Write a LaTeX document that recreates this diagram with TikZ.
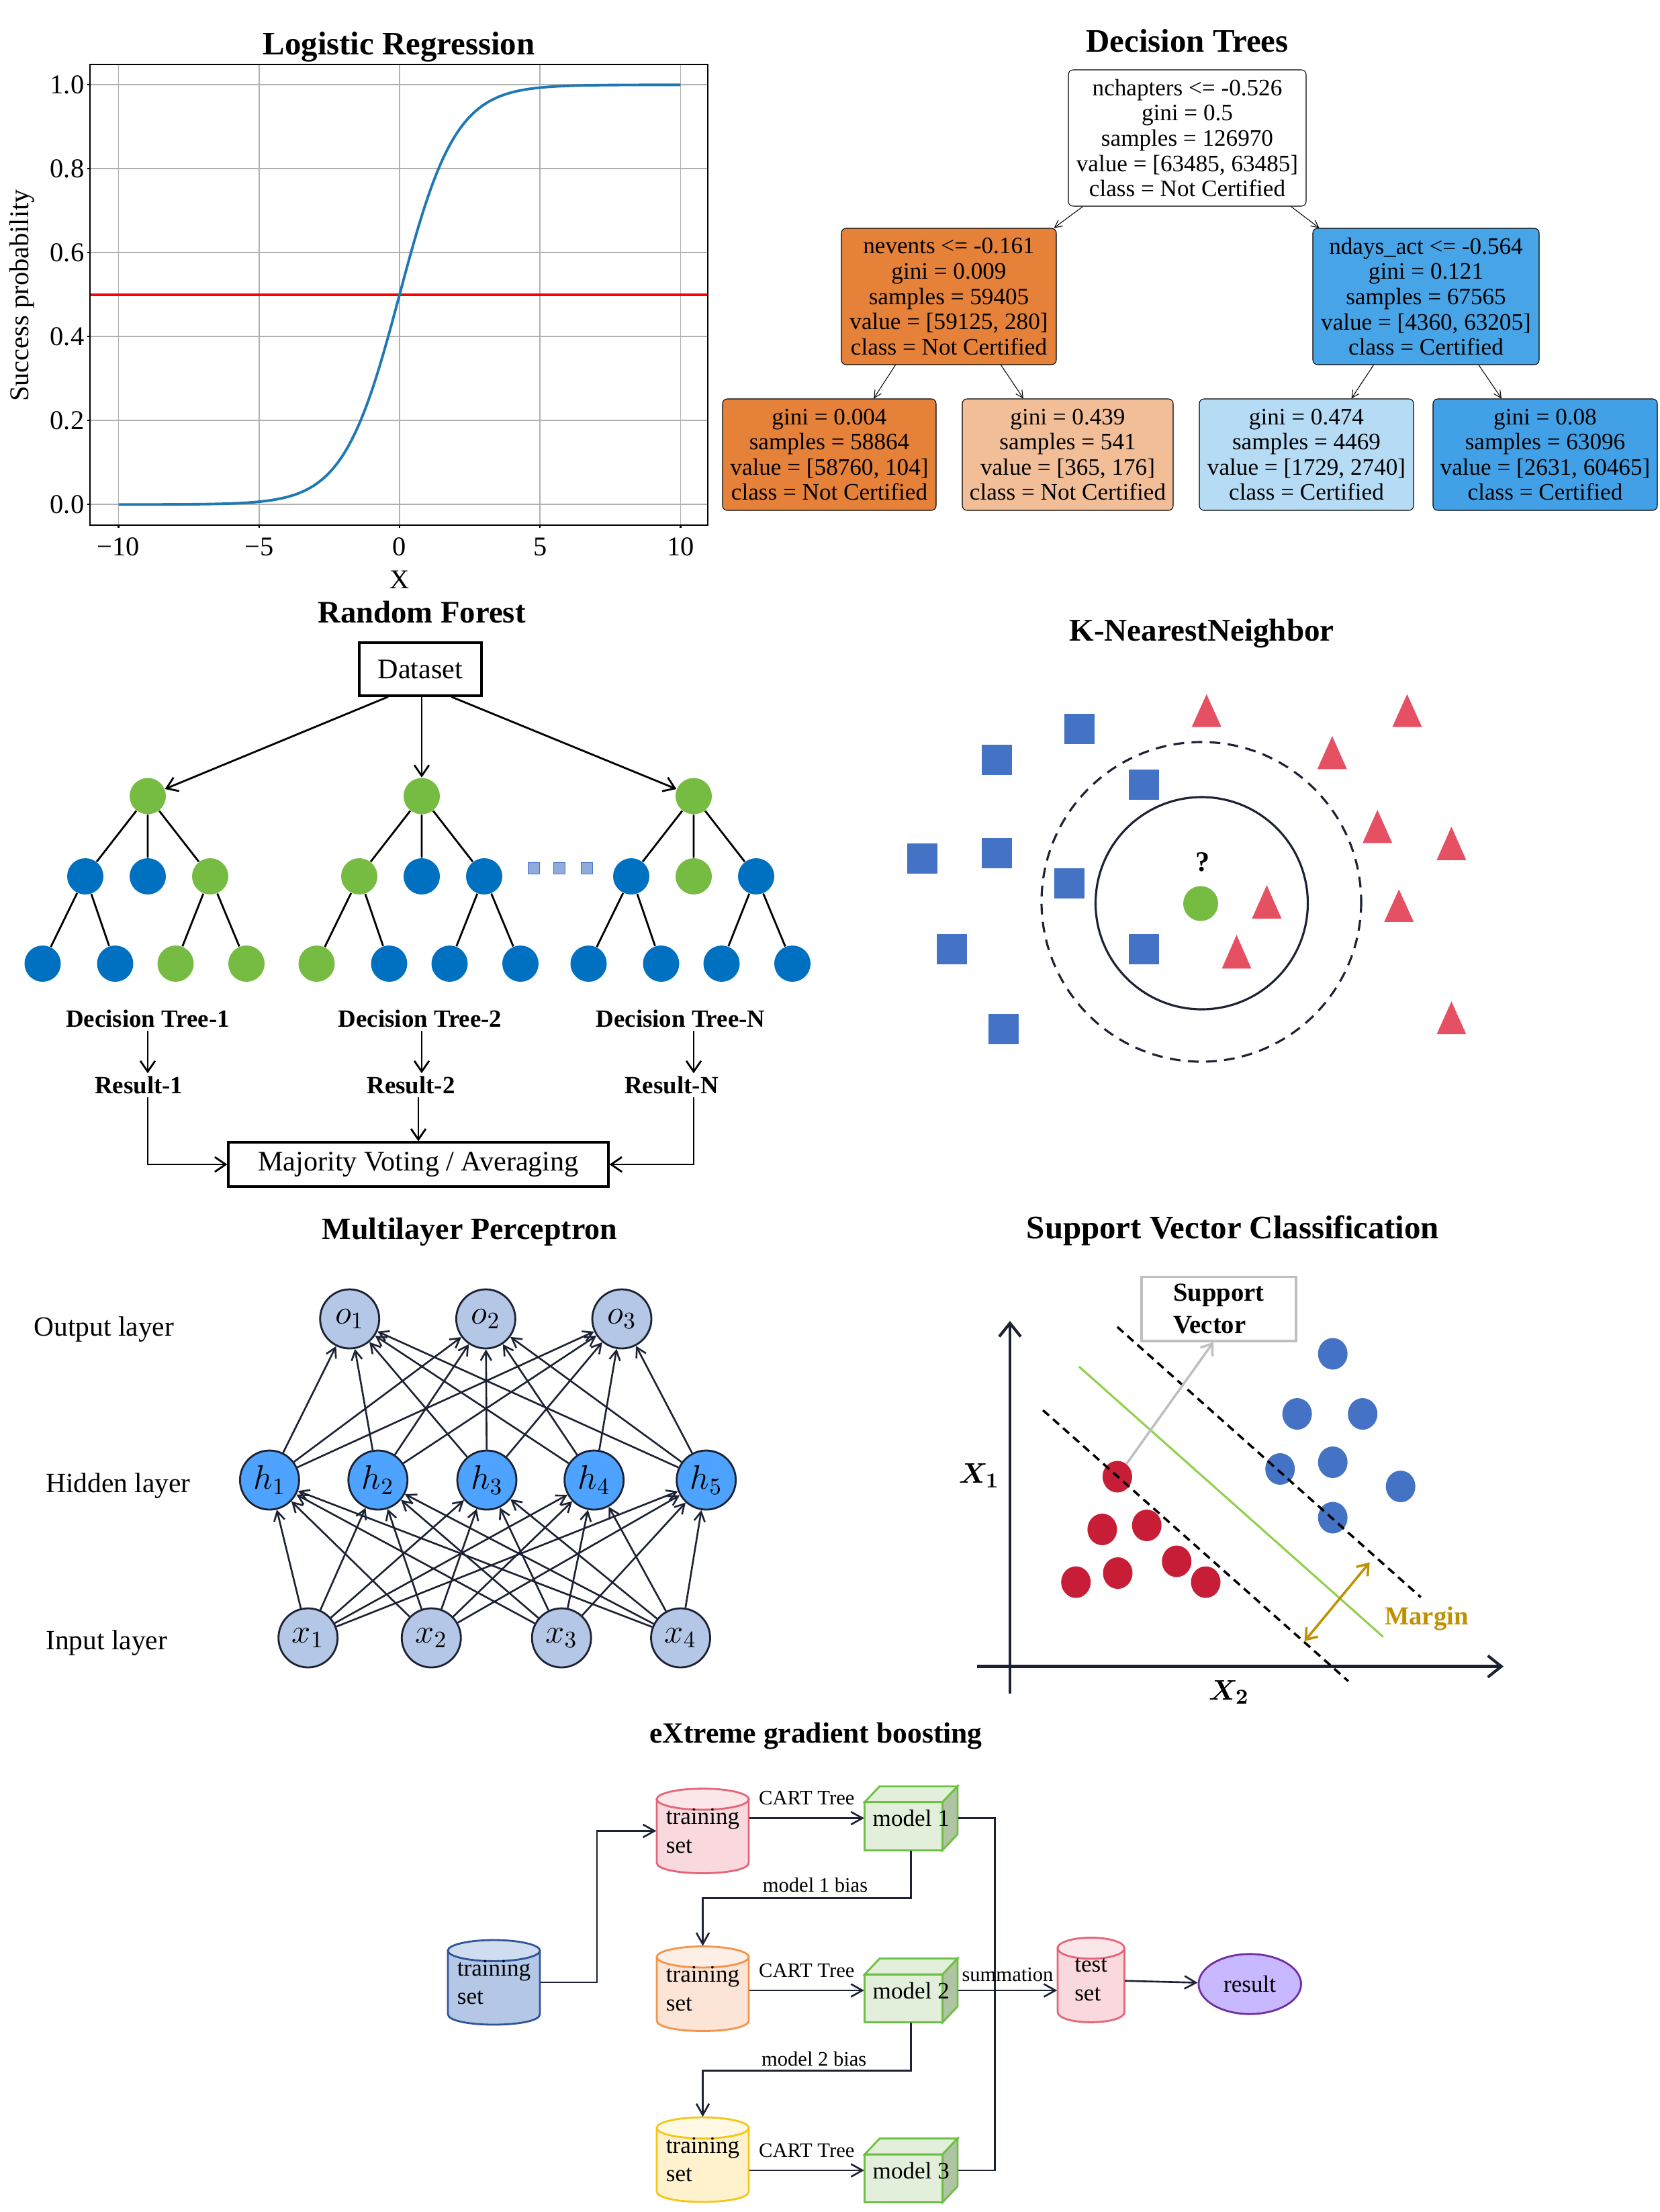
\documentclass[tikz,border=0pt]{standalone}
\usepackage{fontspec}
\setmainfont{Liberation Serif}
\usepackage{bm}
\usetikzlibrary{arrows.meta,calc,positioning,shapes.geometric}

\definecolor{lrblue}{HTML}{1F77B4}
\definecolor{lrgrid}{HTML}{B0B0B0}
\definecolor{dtorange}{HTML}{E58139}
\definecolor{dtpeach}{HTML}{F2BE98}
\definecolor{dtblue}{HTML}{47A4E7}
\definecolor{dtpale}{HTML}{B6DBF5}
\definecolor{dtdeep}{HTML}{42A1E6}
\definecolor{rfgreen}{HTML}{76BC43}
\definecolor{rfblue}{HTML}{0070C0}
\definecolor{rfdot}{HTML}{8FAADC}
\definecolor{knnblue}{HTML}{4472C4}
\definecolor{knnred}{HTML}{E65063}
\definecolor{knngreen}{HTML}{76BC43}
\definecolor{navy}{HTML}{1C2233}
\definecolor{mlplight}{HTML}{B4C7E7}
\definecolor{mlphid}{HTML}{4DA3FF}
\definecolor{svred}{HTML}{C81D36}
\definecolor{svblue}{HTML}{4472C4}
\definecolor{svgreen}{HTML}{92D050}
\definecolor{svgold}{HTML}{BF9000}
\definecolor{svgray}{HTML}{BFBFBF}
\definecolor{xgpinkfill}{HTML}{F9D9DD}
\definecolor{xgpinktop}{HTML}{FBE7EA}
\definecolor{xgpinkline}{HTML}{E66478}
\definecolor{xgorangefill}{HTML}{FCE4D6}
\definecolor{xgorangetop}{HTML}{FDEFE6}
\definecolor{xgorangeline}{HTML}{F4934A}
\definecolor{xgyellowfill}{HTML}{FFF2CC}
\definecolor{xgyellowtop}{HTML}{FFF8E3}
\definecolor{xgyellowline}{HTML}{F5C518}
\definecolor{xgbluefill}{HTML}{B4C7E7}
\definecolor{xgbluetop}{HTML}{D0DCF0}
\definecolor{xgblueline}{HTML}{2F5597}
\definecolor{xggreenfill}{HTML}{E2EFDA}
\definecolor{xggreenside}{HTML}{AFC4A2}
\definecolor{xggreenline}{HTML}{70BF45}
\definecolor{xgresfill}{HTML}{C7B8FF}
\definecolor{xgresline}{HTML}{7030A0}

\begin{document}
\begin{tikzpicture}[x=1mm, y=-1mm, >={Straight Barb[length=1.6mm,width=2.2mm]},
    title/.style={font=\fontsize{#1}{#1}\selectfont\bfseries},
    title/.default=13.9,
    axislabel/.style={font=\fontsize{11.5}{13}\selectfont, inner sep=0pt},
    dtbox/.style={draw, rounded corners=0.7mm, line width=0.3pt, align=center, inner sep=0pt,
        font=\fontsize{10}{10.7}\selectfont},
    dtarrow/.style={-{Straight Barb[length=1.1mm,width=1.1mm]}, line width=0.3pt},
    rfnode/.style={circle, fill=#1, minimum size=5.4mm, inner sep=0pt},
    rfline/.style={line width=0.8pt},
    rfarrow/.style={->, line width=0.8pt},
    rflabel/.style={font=\fontsize{10.5}{12}\selectfont\bfseries, inner sep=0.4mm},
    mlpnode/.style={circle, draw=navy, line width=0.8pt, fill=#1, minimum size=8.8mm, inner sep=0pt,
        font=\fontsize{14.5}{16}\selectfont},
    mlparrow/.style={-{Straight Barb[length=1.4mm,width=1.6mm]}, draw=navy, line width=0.75pt},
    layerlabel/.style={anchor=west, inner sep=0pt, font=\fontsize{11.8}{14}\selectfont},
    xgtext/.style={font=\fontsize{10}{12.1}\selectfont},
    xgsmall/.style={font=\fontsize{8.7}{10}\selectfont, inner sep=0.6mm},
    xgline/.style={draw=navy, line width=0.75pt},
    xgarrow/.style={xgline, -{Straight Barb[length=1.7mm,width=1.9mm]}}
]
    \useasboundingbox (0,0) rectangle (247.1,329.4);

    \node[title] (lrtitle) at (59.4,7.0) {Logistic Regression};
    \foreach \t in {-10,-5,0,5,10}
        \draw[lrgrid, line width=0.55pt] ({59.5+4.185*\t},9.59) -- ({59.5+4.185*\t},78.17);
    \foreach \p in {0,0.2,0.4,0.6,0.8,1}
        \draw[lrgrid, line width=0.55pt] (13.38,{75.13-62.5*\p}) -- (105.4,{75.13-62.5*\p});
    \draw[red, line width=1pt] (13.38,43.88) -- (105.4,43.88);
    \draw[lrblue, line width=1.1pt] plot[domain=-10:10, samples=121, smooth]
        ({59.5+4.185*\x},{75.13-62.5/(1+exp(-max(\x,-9)))});
    \draw[line width=0.6pt] (13.38,9.59) rectangle (105.4,78.17);
    \foreach \t/\l [count=\i] in {-10/−10,-5/−5,0/0,5/5,10/10} {
        \draw[line width=0.6pt] ({59.5+4.185*\t},78.17) -- ({59.5+4.185*\t},78.6);
        \node[axislabel, anchor=north] (xt\i) at ({59.5+4.185*\t},80.0) {\l};
    }
    \foreach \p/\l [count=\i] in {0/0.0,0.2/0.2,0.4/0.4,0.6/0.6,0.8/0.8,1/1.0} {
        \draw[line width=0.6pt] (13.38,{75.13-62.5*\p}) -- (12.95,{75.13-62.5*\p});
        \node[axislabel, anchor=east] (yt\i) at (12.6,{75.13-62.5*\p}) {\l};
    }
    \node[axislabel] (xlab) at (59.5,86.3) {X};
    \node[axislabel, rotate=90] (ylab) at (3.3,44.0) {Success probability};

    \node[title] (dttitle) at (176.8,6.1) {Decision Trees};
    \node[dtbox, fill=white, minimum width=35.4mm, minimum height=20.3mm] (root) at (176.8,20.55)
        {nchapters <= -0.526\\gini = 0.5\\samples = 126970\\value = [63485, 63485]\\class = Not Certified};
    \node[dtbox, fill=dtorange, minimum width=32mm, minimum height=20.3mm] (lmid) at (141.3,44.15)
        {nevents <= -0.161\\gini = 0.009\\samples = 59405\\value = [59125, 280]\\class = Not Certified};
    \node[dtbox, fill=dtblue, minimum width=33.7mm, minimum height=20.3mm] (rmid) at (212.35,44.15)
        {ndays\_act <= -0.564\\gini = 0.121\\samples = 67565\\value = [4360, 63205]\\class = Certified};
    \node[dtbox, fill=dtorange, minimum width=31.8mm, minimum height=16.6mm] (leafa) at (123.5,67.7)
        {gini = 0.004\\samples = 58864\\value = [58760, 104]\\class = Not Certified};
    \node[dtbox, fill=dtpeach, minimum width=31.4mm, minimum height=16.6mm] (leafb) at (159.0,67.7)
        {gini = 0.439\\samples = 541\\value = [365, 176]\\class = Not Certified};
    \node[dtbox, fill=dtpale, minimum width=31.9mm, minimum height=16.6mm] (leafc) at (194.55,67.7)
        {gini = 0.474\\samples = 4469\\value = [1729, 2740]\\class = Certified};
    \node[dtbox, fill=dtdeep, minimum width=33.4mm, minimum height=16.6mm] (leafd) at (230.1,67.7)
        {gini = 0.08\\samples = 63096\\value = [2631, 60465]\\class = Certified};
    \draw[dtarrow] ([xshift=2.2mm]root.south west) -- ([xshift=-0.4mm]lmid.north east);
    \draw[dtarrow] ([xshift=-2.3mm]root.south east) -- ([xshift=1mm]rmid.north west);
    \draw[dtarrow] ([xshift=8.1mm]lmid.south west) -- ([xshift=6.6mm]leafa.north);
    \draw[dtarrow] ([xshift=-8.3mm]lmid.south east) -- ([xshift=-6.6mm]leafb.north);
    \draw[dtarrow] ([xshift=9.1mm]rmid.south west) -- ([xshift=6.7mm]leafc.north);
    \draw[dtarrow] ([xshift=-9.05mm]rmid.south east) -- ([xshift=-6.5mm]leafd.north);

    \node[title=13.3] (rftitle) at (62.8,91.1) {Random Forest};
    \node[draw, line width=0.9pt, minimum width=18.2mm, minimum height=7.9mm, inner sep=0pt,
        font=\fontsize{12}{14}\selectfont] (data) at (62.6,99.65) {Dataset};
    \foreach \k/\cx/\ca/\cb/\cc/\caa/\cab/\cca/\ccb in {
            1/22.0/rfblue/rfblue/rfgreen/rfblue/rfblue/rfgreen/rfgreen,
            2/62.8/rfgreen/rfblue/rfblue/rfgreen/rfblue/rfblue/rfblue,
            3/103.3/rfblue/rfgreen/rfblue/rfblue/rfblue/rfblue/rfblue} {
        \node[rfnode=rfgreen] (tr\k) at (\cx,118.55) {};
        \node[rfnode=\ca] (ta\k) at ({\cx-9.3},130.5) {};
        \node[rfnode=\cb] (tb\k) at (\cx,130.5) {};
        \node[rfnode=\cc] (tc\k) at ({\cx+9.3},130.5) {};
        \node[rfnode=\caa] (taa\k) at ({\cx-15.65},143.5) {};
        \node[rfnode=\cab] (tab\k) at ({\cx-4.85},143.5) {};
        \node[rfnode=\cca] (tca\k) at ({\cx+4.15},143.5) {};
        \node[rfnode=\ccb] (tcb\k) at ({\cx+14.7},143.5) {};
        \draw[rfline] (tr\k) -- (ta\k) (tr\k) -- (tb\k) (tr\k) -- (tc\k)
            (ta\k) -- (taa\k) (ta\k) -- (tab\k) (tc\k) -- (tca\k) (tc\k) -- (tcb\k);
    }
    \foreach \x [count=\i] in {79.5,83.3,87.4}
        \node[draw=knnblue, fill=rfdot, line width=0.5pt, minimum size=1.7mm, inner sep=0pt] (dot\i) at (\x,129.3) {};
    \draw[rfarrow] ([xshift=-4.8mm]data.south) -- (tr1);
    \draw[rfarrow] (data.south -| tr2) -- (tr2);
    \draw[rfarrow] ([xshift=4.6mm]data.south) -- (tr3);
    \node[rflabel] (dt1) at (22.0,151.7) {Decision Tree-1};
    \node[rflabel] (dt2) at (62.56,151.7) {Decision Tree-2};
    \node[rflabel] (dt3) at (101.35,151.7) {Decision Tree-N};
    \node[rflabel] (res1) at (20.67,161.6) {Result-1};
    \node[rflabel] (res2) at (61.2,161.6) {Result-2};
    \node[rflabel] (res3) at (100.0,161.6) {Result-N};
    \node[draw, line width=0.9pt, minimum width=56.6mm, minimum height=6.6mm, inner sep=0pt,
        font=\fontsize{12}{14}\selectfont] (vote) at (62.3,173.4) {Majority Voting / Averaging};
    \draw[rfarrow] (dt1.south -| tr1) -- (res1.north -| tr1);
    \draw[rfarrow] (dt2.south -| tr2) -- (res2.north -| tr2);
    \draw[rfarrow] (dt3.south -| tr3) -- (res3.north -| tr3);
    \draw[rfarrow] (res1.south -| tr1) |- (vote.west);
    \draw[rfarrow] (res2.south -| vote.north) -- (vote.north);
    \draw[rfarrow] (res3.south -| tr3) |- (vote.east);

    \node[title=13.4] (knntitle) at (178.96,94.3) {K-NearestNeighbor};
    \foreach \x/\y in {160.7/108.55,148.4/113.1,170.3/116.8,137.3/127.8,148.4/127.0,
            159.2/131.5,141.7/141.3,170.3/141.3,149.4/153.2}
        \fill[knnblue] ({\x-2.25},{\y-2.25}) rectangle ({\x+2.25},{\y+2.25});
    \foreach \x/\a/\b in {179.67/103.37/108.26,209.54/103.37/108.26,198.38/109.6/114.54,
            205.12/120.6/125.53,216.14/123.1/128.09,188.64/131.81/136.79,208.32/132.44/137.29,
            184.15/139.21/144.24,216.14/149.13/154.02}
        \fill[knnred] ({\x-2.2},\b) -- (\x,\a) -- ({\x+2.2},\b) -- cycle;
    \draw[navy, line width=0.9pt, dash pattern=on 1.6mm off 1.1mm] (178.9,134.3) circle[radius=23.8];
    \draw[navy, line width=0.9pt] (178.95,134.5) circle[radius=15.8];
    \node[circle, fill=knngreen, minimum size=5.2mm, inner sep=0pt] (query) at (178.8,134.55) {};
    \node[font=\fontsize{12}{14}\selectfont\bfseries] (qmark) at (179.1,128.4) {?};

    \node[title=13.1] (mlptitle) at (69.95,183.4) {Multilayer Perceptron};
    \foreach \x [count=\i] in {52.07,72.34,92.6}
        \node[mlpnode=mlplight] (o\i) at (\x,196.4) {$o_{\i}$};
    \foreach \x [count=\i] in {40.14,56.28,72.5,88.47,105.17}
        \node[mlpnode=mlphid] (h\i) at (\x,220.4) {$h_{\i}$};
    \foreach \x [count=\i] in {45.87,64.23,83.62,101.35}
        \node[mlpnode=mlplight] (x\i) at (\x,243.9) {$x_{\i}$};
    \foreach \i in {1,...,4}
        \foreach \j in {1,...,5}
            \draw[mlparrow] (x\i) -- (h\j);
    \foreach \j in {1,...,5}
        \foreach \k in {1,2,3}
            \draw[mlparrow] (h\j) -- (o\k);
    \node[layerlabel] (outlab) at (5.0,198.0) {Output layer};
    \node[layerlabel] (hidlab) at (6.76,221.25) {Hidden layer};
    \node[layerlabel] (inlab) at (6.76,244.65) {Input layer};

    \node[title] (svctitle) at (183.6,183.2) {Support Vector Classification};
    \draw[navy, line width=1.2pt, -{Straight Barb[length=2mm,width=3.2mm]}] (150.4,252.2) -- (150.4,196.7);
    \draw[navy, line width=1.2pt, -{Straight Barb[length=2mm,width=3.2mm]}] (145.5,248.15) -- (223.9,248.15);
    \node[font=\fontsize{13}{15}\selectfont] (xone) at (145.8,219.75) {$\bm{X_1}$};
    \node[font=\fontsize{13}{15}\selectfont] (xtwo) at (183.0,252.0) {$\bm{X_2}$};
    \foreach \x/\y in {164.14/227.75,170.77/227.15,166.45/234.25,175.22/232.5,160.22/235.6,179.55/235.6}
        \fill[svred] (\x,\y) ellipse[x radius=2.2, y radius=2.35];
    \node[ellipse, fill=svred, minimum width=4.4mm, minimum height=4.7mm, inner sep=0pt] (sv) at (166.39,219.9) {};
    \foreach \x/\y in {198.47/201.6,193.16/210.55,202.92/210.55,198.47/217.75,190.62/218.75,208.57/221.35,198.47/226.0}
        \fill[svblue] (\x,\y) ellipse[x radius=2.2, y radius=2.35];
    \draw[svgreen, line width=0.9pt] (160.68,203.5) -- (205.97,243.75);
    \draw[line width=1pt, dash pattern=on 1.2mm off 0.8mm] (166.39,197.6) -- (211.57,237.85);
    \draw[line width=1pt, dash pattern=on 1.2mm off 0.8mm] (155.31,210.0) -- (200.78,250.35);
    \node[draw=svgray, line width=1pt, minimum width=23mm, minimum height=9.55mm, align=left, inner sep=0pt,
        font=\fontsize{11}{13.5}\selectfont\bfseries] (svbox) at (181.5,194.9) {Support\\Vector};
    \draw[svgray, line width=1pt, -{Straight Barb[length=1.5mm,width=2.2mm]}] (sv) -- ([xshift=-0.8mm]svbox.south);
    \coordinate (mlo) at (194.26,244.4);
    \coordinate (mhi) at (203.96,232.65);
    \draw[svgold, line width=1pt, {Straight Barb[length=1.5mm,width=2.2mm]}-{Straight Barb[length=1.5mm,width=2.2mm]}] (mlo) -- (mhi);
    \node[text=svgold, font=\fontsize{11}{13}\selectfont\bfseries] (margin) at (212.44,241.0) {Margin};

    \node[title=12.4] (xgbtitle) at (121.5,258.5) {eXtreme gradient boosting};
    \foreach \n/\cx/\cy/\w/\fc/\tc/\dc/\t in {
            bts/73.55/295.2/13.7/xgbluefill/xgbluetop/xgblueline/{training\\set},
            ts1/104.65/272.65/13.7/xgpinkfill/xgpinktop/xgpinkline/{training\\set},
            ts2/104.65/296.15/13.7/xgorangefill/xgorangetop/xgorangeline/{training\\set},
            ts3/104.65/321.6/13.7/xgyellowfill/xgyellowtop/xgyellowline/{training\\set},
            tst/162.47/294.84/9.96/xgpinkfill/xgpinktop/xgpinkline/{test\\set}} {
        \filldraw[fill=\fc, draw=\dc, line width=0.8pt] ({\cx-\w/2},{\cy-4.73}) -- ({\cx-\w/2},{\cy+4.73})
            .. controls ({\cx-\w/2},{\cy+6.82}) and ({\cx+\w/2},{\cy+6.82}) .. ({\cx+\w/2},{\cy+4.73})
            -- ({\cx+\w/2},{\cy-4.73}) -- cycle;
        \filldraw[fill=\tc, draw=\dc, line width=0.8pt] (\cx,{\cy-4.73}) ellipse[x radius=\w/2, y radius=1.57];
        \node[xgtext, align=left, inner sep=0pt, minimum width={\w*1mm}, minimum height=12.6mm] (\n) at (\cx,\cy) {\t};
    }
    \foreach \n/\cy/\t in {m1/270.75/model 1, m2/296.4/model 2, m3/323.2/model 3} {
        \filldraw[fill=xggreenfill, draw=xggreenline, line width=0.8pt] (128.76,{\cy-2.39}) rectangle (140.36,{\cy+4.76});
        \filldraw[fill=xggreenfill, draw=xggreenline, line width=0.8pt] (128.76,{\cy-2.39}) -- (131.0,{\cy-4.76})
            -- (142.6,{\cy-4.76}) -- (140.36,{\cy-2.39}) -- cycle;
        \filldraw[fill=xggreenside, draw=xggreenline, line width=0.8pt] (140.36,{\cy-2.39}) -- (142.6,{\cy-4.76})
            -- (142.6,{\cy+2.39}) -- (140.36,{\cy+4.76}) -- cycle;
        \node[xgtext, minimum width=13.84mm, minimum height=9.52mm, inner sep=0pt] (\n) at (135.68,\cy) {\t};
    }
    \coordinate (fork) at (88.9,284);
    \draw[xgarrow] (bts.east) -| (fork) |- (ts1.west);
    \draw[xgarrow] (ts1.east |- m1.west) -- (m1.west) node[xgsmall, midway, above=1.2mm] (cart1) {CART Tree};
    \draw[xgarrow] (ts2.east |- m2.west) -- (m2.west) node[xgsmall, midway, above=1.2mm] (cart2) {CART Tree};
    \draw[xgarrow] (ts3.east |- m3.west) -- (m3.west) node[xgsmall, midway, above=1.2mm] (cart3) {CART Tree};
    \coordinate (bias1) at (104.65,282.66);
    \coordinate (bias2) at (104.65,308.37);
    \draw[xgarrow] (m1.south) |- (bias1) -- (ts2.north);
    \draw[xgarrow] (m2.south) |- (bias2) -- (ts3.north);
    \node[xgsmall] (biaslab1) at (121.4,280.68) {model 1 bias};
    \node[xgsmall] (biaslab2) at (121.22,306.59) {model 2 bias};
    \coordinate (bus) at (148.15,296);
    \draw[xgline] (m1.east) -| (bus) |- (m3.east);
    \draw[xgarrow] (m2.east) -- (m2.east -| tst.west) node[xgsmall, midway, above=0.6mm] (summ) {summation};
    \node[ellipse, draw=xgresline, fill=xgresfill, line width=0.8pt, minimum width=15.26mm, minimum height=8.94mm,
        inner sep=0pt, xgtext] (res) at (186.12,295.45) {result};
    \draw[xgarrow] (tst) -- (res);
\end{tikzpicture}
\end{document}
